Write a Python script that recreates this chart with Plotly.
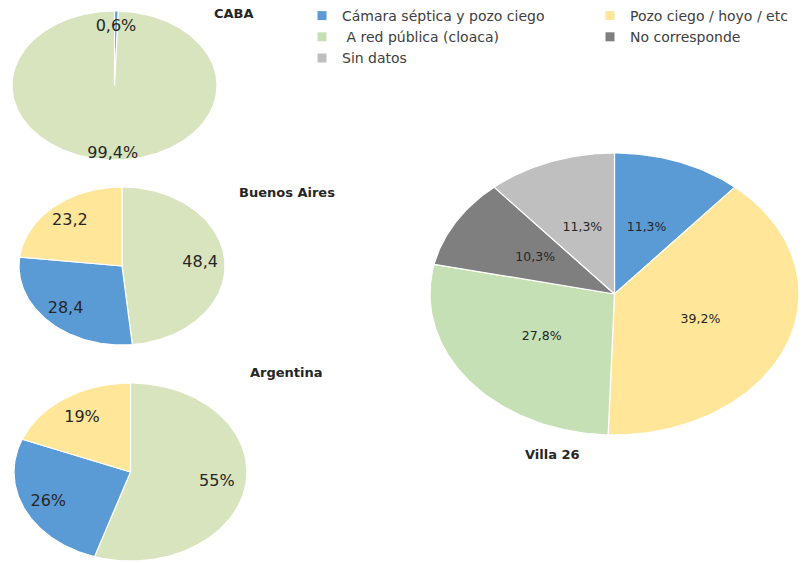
import numpy as np
import plotly.graph_objects as go

# ---------------- data ----------------
categories = ["Cámara séptica y pozo ciego", "Pozo ciego / hoyo / etc",
              " A red pública (cloaca)", "No corresponde", "Sin datos"]

caba_labels = ["Cámara séptica y pozo ciego", " A red pública (cloaca)"]
caba_values = [0.6, 99.4]

ba_labels = [" A red pública (cloaca)", "Cámara séptica y pozo ciego", "Pozo ciego / hoyo / etc"]
ba_values = [48.4, 28.4, 23.2]

arg_labels = [" A red pública (cloaca)", "Cámara séptica y pozo ciego", "Pozo ciego / hoyo / etc"]
arg_values = [55, 26, 19]

villa_labels = ["Cámara séptica y pozo ciego", "Pozo ciego / hoyo / etc",
                " A red pública (cloaca)", "No corresponde", "Sin datos"]
villa_values = [11.3, 39.2, 27.8, 10.3, 11.3]

titles = ["CABA", "Buenos Aires", "Argentina", "Villa 26"]

# ---------------- styles ----------------
W, H = 811, 563
colors = {
    "Cámara séptica y pozo ciego": "#5B9BD5",
    "Pozo ciego / hoyo / etc": "#FFE699",
    " A red pública (cloaca)": "#C5E0B4",
    "No corresponde": "#7F7F7F",
    "Sin datos": "#BFBFBF",
}
green_small = "#D8E4BE"
# which legend box (column) each category goes to
legend_col = {
    "Cámara séptica y pozo ciego": "legend",
    " A red pública (cloaca)": "legend",
    "Sin datos": "legend",
    "Pozo ciego / hoyo / etc": "legend2",
    "No corresponde": "legend2",
}


def fmt_pct1(v):
    return f"{v:.1f}".replace(".", ",") + "%"


def fmt_num1(v):
    return f"{v:.1f}".replace(".", ",")


def fmt_pct0(v):
    return f"{v:.0f}%"


pies = [
    dict(labels=caba_labels, values=caba_values, fmt=fmt_pct1, box=(12, 11, 217, 160),
         label_r=[0.78, 0.92], font=16, small=True, title_xy=(234, 14)),
    dict(labels=ba_labels, values=ba_values, fmt=fmt_num1, box=(19, 187, 225, 345),
         label_r=[0.76, 0.77, 0.76], font=16, small=True, title_xy=(287, 192)),
    dict(labels=arg_labels, values=arg_values, fmt=fmt_pct0, box=(14, 383, 247, 561),
         label_r=[0.75, 0.78, 0.74], font=16, small=True, title_xy=(286, 372)),
    dict(labels=villa_labels, values=villa_values, fmt=fmt_pct1, box=(430, 153, 799, 435),
         label_r=[0.5] * 5, font=12.5, small=False, title_xy=(552, 455)),
]

fig = go.Figure()
layout_axes = {}

for i, p in enumerate(pies):
    sfx = "" if i == 0 else str(i + 1)
    xref, yref = "x" + sfx, "y" + sfx
    x0, y0, x1, y1 = p["box"]
    layout_axes["xaxis" + sfx] = dict(domain=[x0 / W, x1 / W], range=[-1, 1], visible=False,
                                      fixedrange=True, anchor=yref)
    layout_axes["yaxis" + sfx] = dict(domain=[1 - y1 / H, 1 - y0 / H], range=[-1, 1], visible=False,
                                      fixedrange=True, anchor=xref)
    vals = np.array(p["values"], dtype=float)
    ang = np.concatenate([[0], np.cumsum(vals)]) / vals.sum() * 2 * np.pi
    for j, lab in enumerate(p["labels"]):
        a0, a1 = ang[j], ang[j + 1]
        n = max(3, int(np.degrees(a1 - a0)) + 2)
        th = np.linspace(a0, a1, n)
        xs = np.concatenate([[0], np.sin(th), [0]])
        ys = np.concatenate([[0], np.cos(th), [0]])
        col = colors[lab]
        if p["small"] and lab == " A red pública (cloaca)":
            col = green_small
        fig.add_trace(go.Scatter(x=xs, y=ys, xaxis=xref, yaxis=yref, mode="lines",
                                 fill="toself", fillcolor=col,
                                 line=dict(color="white", width=1.2),
                                 showlegend=False, hoverinfo="skip"))
    tx, ty, tt = [], [], []
    for j, v in enumerate(vals):
        mid = (ang[j] + ang[j + 1]) / 2
        r = p["label_r"][j]
        tx.append(r * np.sin(mid))
        ty.append(r * np.cos(mid))
        tt.append(p["fmt"](v))
    fig.add_trace(go.Scatter(x=tx, y=ty, xaxis=xref, yaxis=yref, mode="text", text=tt,
                             textposition="middle center",
                             textfont=dict(family="DejaVu Sans", size=p["font"], color="#262626"),
                             showlegend=False, hoverinfo="skip"))
    tx_, ty_ = p["title_xy"]
    fig.add_annotation(x=tx_ / W, y=1 - ty_ / H, xref="paper", yref="paper", text=titles[i],
                       showarrow=False, xanchor="center", yanchor="middle",
                       font=dict(family="DejaVu Sans", size=13, color="#262626", weight="bold"))

# legend entries
for cat in categories:
    fig.add_trace(go.Scatter(x=[None], y=[None], mode="markers", name=cat,
                             legend=legend_col[cat],
                             marker=dict(symbol="square", size=9, color=colors[cat]),
                             showlegend=True, hoverinfo="skip"))

legend_font = dict(family="DejaVu Sans", size=14, color="#404040")
fig.update_layout(
    width=W, height=H,
    margin=dict(l=0, r=0, t=0, b=0),
    paper_bgcolor="white", plot_bgcolor="white",
    showlegend=True,
    legend=dict(orientation="v", x=302 / W, y=1.0, xanchor="left", yanchor="top",
                bgcolor="rgba(0,0,0,0)", traceorder="normal", font=legend_font,
                tracegroupgap=0, itemsizing="trace"),
    legend2=dict(orientation="v", x=590 / W, y=1.0, xanchor="left", yanchor="top",
                 bgcolor="rgba(0,0,0,0)", traceorder="normal", font=legend_font,
                 tracegroupgap=0, itemsizing="trace"),
    **layout_axes,
)

fig.write_html("out.html")
